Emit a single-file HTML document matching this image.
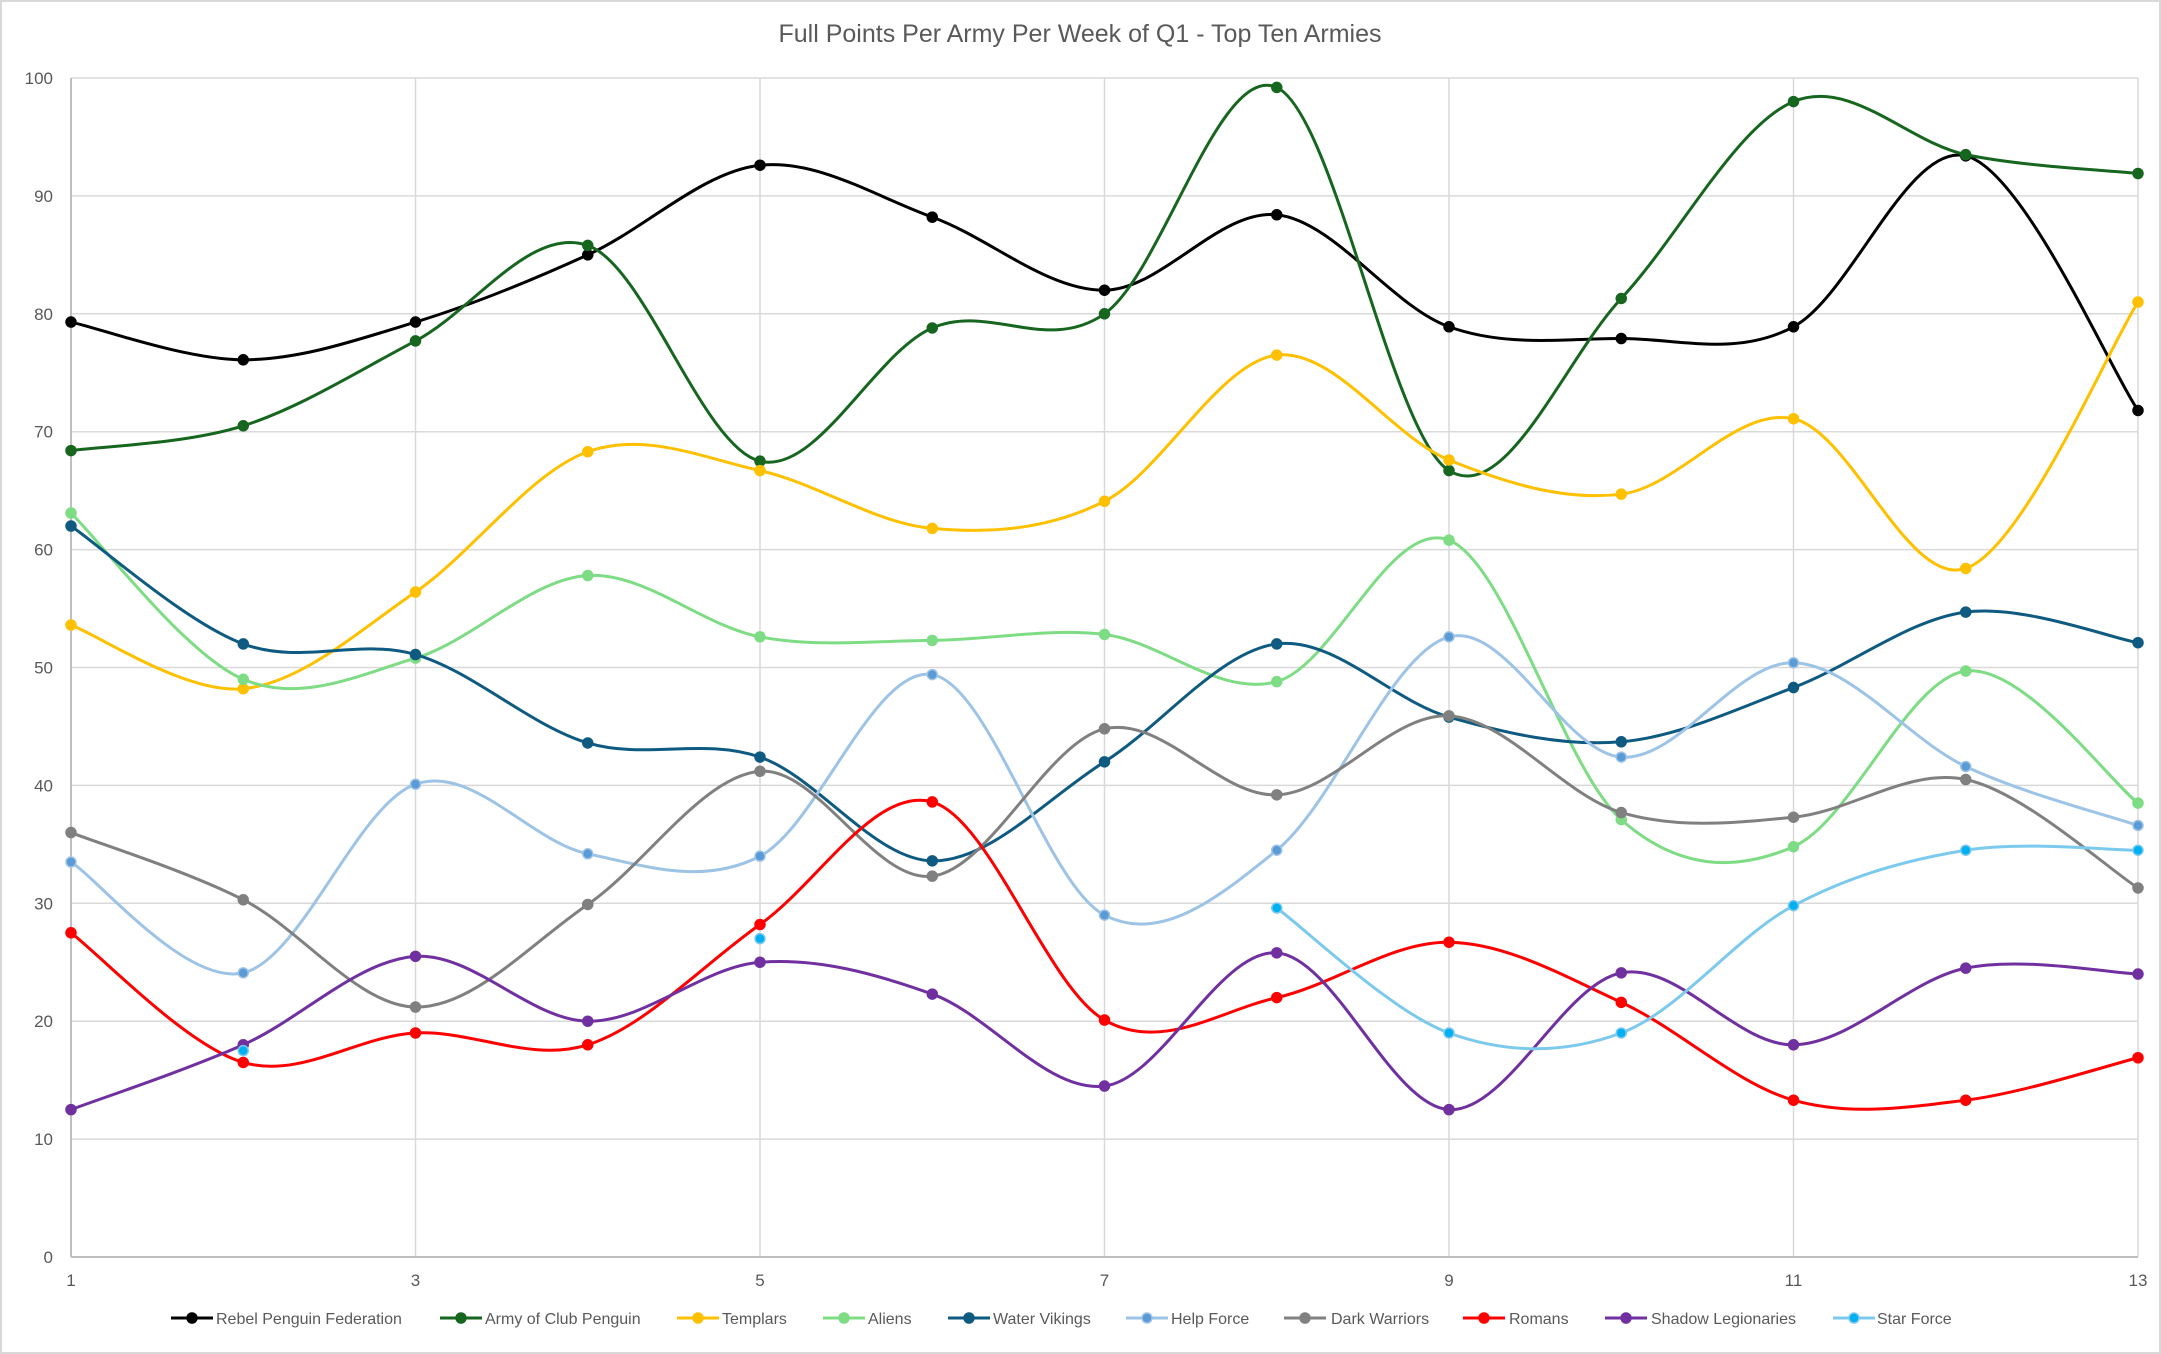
<!DOCTYPE html>
<html><head><meta charset="utf-8"><style>
html,body{margin:0;padding:0;background:#fff}
svg{display:block;font-family:"Liberation Sans",Arial,sans-serif}
</style></head><body>
<svg id="c" width="2161" height="1354" xmlns="http://www.w3.org/2000/svg"></svg>
<script>
const S=document.getElementById('c');
const X=w=>71+(w-1)*172.25, Y=v=>1257-v*11.79;
let h='<rect x="1" y="1" width="2159" height="1352" fill="#fff" stroke="#d9d9d9" stroke-width="2"/>';
h+='<text x="1080" y="42" text-anchor="middle" font-size="25" fill="#595959">Full Points Per Army Per Week of Q1 - Top Ten Armies</text>';
for(let v=0;v<=100;v+=10){h+=`<line x1="71" x2="2138" y1="${Y(v)}" y2="${Y(v)}" stroke="#d9d9d9" stroke-width="1.5"/>`;
h+=`<text x="53" y="${Y(v)+6}" text-anchor="end" font-size="17" fill="#595959">${v}</text>`;}
for(let w=1;w<=13;w+=2){h+=`<line x1="${X(w)}" x2="${X(w)}" y1="78" y2="1257" stroke="#d9d9d9" stroke-width="1.5"/>`;
h+=`<text x="${X(w)}" y="1286" text-anchor="middle" font-size="17" fill="#595959">${w}</text>`;}
h+='<line x1="71" x2="2138" y1="1257" y2="1257" stroke="#bfbfbf" stroke-width="2"/><line x1="71" x2="71" y1="78" y2="1257" stroke="#bfbfbf" stroke-width="2"/>';
const D=[
["Rebel Penguin Federation","#000","#000",[79.3,76.1,79.3,85,92.6,88.2,82,88.4,78.9,77.9,78.9,93.4,71.8]],
["Army of Club Penguin","#17661f","#17661f",[68.4,70.5,77.7,85.8,67.5,78.8,80,99.2,66.7,81.3,98,93.5,91.9]],
["Templars","#ffc000","#ffc000",[53.6,48.2,56.4,68.3,66.7,61.8,64.1,76.5,67.6,64.7,71.1,58.4,81]],
["Aliens","#7ddc84","#7ddc84",[63.1,49,50.8,57.8,52.6,52.3,52.8,48.8,60.8,37.1,34.8,49.7,38.5]],
["Water Vikings","#0e5a80","#0e5a80",[62,52,51.1,43.6,42.4,33.6,42,52,45.8,43.7,48.3,54.7,52.1]],
["Help Force","#9dc3e6","#5b9bd5",[33.5,24.1,40.1,34.2,34,49.4,29,34.5,52.6,42.4,50.4,41.6,36.6]],
["Dark Warriors","#808080","#808080",[36,30.3,21.2,29.9,41.2,32.3,44.8,39.2,45.9,37.7,37.3,40.5,31.3]],
["Romans","#ff0000","#ff0000",[27.5,16.5,19,18,28.2,38.6,20.1,22,26.7,21.6,13.3,13.3,16.9]],
["Shadow Legionaries","#7030a0","#7030a0",[12.5,18,25.5,20,25,22.3,14.5,25.8,12.5,24.1,18,24.5,24]],
["Star Force","#7cc9ee","#00b0f0",[null,17.5,null,null,27,null,null,29.6,19,19,29.8,34.5,34.5]]];
function path(p){let d=`M${p[0][0]},${p[0][1]}`;for(let i=0;i<p.length-1;i++){const a=p[i-1]||p[i],b=p[i],c=p[i+1],e=p[i+2]||c;
d+=` C${b[0]+(c[0]-a[0])/6},${b[1]+(c[1]-a[1])/6} ${c[0]-(e[0]-b[0])/6},${c[1]-(e[1]-b[1])/6} ${c[0]},${c[1]}`;}return d;}
for(const [n,lc,mc,v] of D){let seg=[],segs=[];v.forEach((y,i)=>{if(y==null){if(seg.length)segs.push(seg);seg=[];}else seg.push([X(i+1),Y(y)]);});if(seg.length)segs.push(seg);
for(const s of segs)if(s.length>1)h+=`<path d="${path(s)}" fill="none" stroke="${lc}" stroke-width="3"/>`;
v.forEach((y,i)=>{if(y!=null)h+=`<circle cx="${X(i+1)}" cy="${Y(y)}" r="5" fill="${mc}" stroke="${lc}" stroke-width="1.5"/>`;});}
const lx=[171,440,677,823,948,1126,1284,1463,1605,1833],tx=[216,485,722,868,993,1171,1331,1509,1651,1877];
D.forEach((d,i)=>{h+=`<line x1="${lx[i]}" x2="${lx[i]+42}" y1="1318" y2="1318" stroke="${d[1]}" stroke-width="3"/><circle cx="${lx[i]+21}" cy="1318" r="5" fill="${d[2]}" stroke="${d[1]}" stroke-width="1.5"/><text x="${tx[i]}" y="1324" font-size="16" fill="#595959">${d[0]}</text>`;});
S.innerHTML=h;
</script>
</body></html>
